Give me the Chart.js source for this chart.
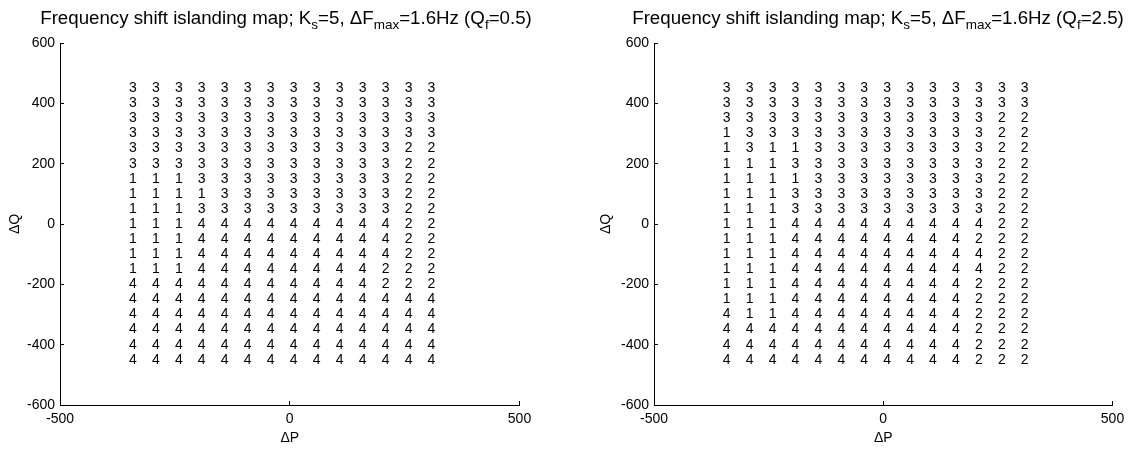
<!DOCTYPE html>
<html>
<head>
<meta charset="utf-8">
<script src="https://cdn.jsdelivr.net/npm/chart.js@4.4.0/dist/chart.umd.min.js"></script>
<style>
  body { margin:0; background:#fff; font-family:"Liberation Sans", Arial, sans-serif; }
  .panel { position:absolute; top:0; width:568px; height:449px; }
  .ttl { position:absolute; top:8px; font-size:18.7px; line-height:20px; white-space:nowrap; color:#000; transform:translateX(-50%); }
  .ttl span { font-size:13.5px; vertical-align:-5px; }
</style>
</head>
<body>
<div class="panel" style="left:0"><canvas id="c1" width="568" height="449"></canvas></div>
<div class="panel" style="left:568px"><canvas id="c2" width="568" height="449"></canvas></div>
<div class="ttl" style="left:286px">Frequency shift islanding map; K<span>s</span>=5, ΔF<span>max</span>=1.6Hz (Q<span>f</span>=0.5)</div>
<div class="ttl" style="left:878px">Frequency shift islanding map; K<span>s</span>=5, ΔF<span>max</span>=1.6Hz (Q<span>f</span>=2.5)</div>
<script>
// ── DATA ──
const xVals = [-350, -300, -250, -200, -150, -100, -50, 0, 50, 100, 150, 200, 250, 300];
const yVals = [450, 400, 350, 300, 250, 200, 150, 100, 50, 0, -50, -100, -150, -200, -250, -300, -350, -400, -450];
const xTicks = [-500, 0, 500];
const yTicks = [-600, -400, -200, 0, 200, 400, 600];

// Qf = 0.5, rows from dQ=450 down to dQ=-450
const mapQf05 = [
  [3,3,3,3,3,3,3,3,3,3,3,3,3,3],
  [3,3,3,3,3,3,3,3,3,3,3,3,3,3],
  [3,3,3,3,3,3,3,3,3,3,3,3,3,3],
  [3,3,3,3,3,3,3,3,3,3,3,3,3,3],
  [3,3,3,3,3,3,3,3,3,3,3,3,2,2],
  [3,3,3,3,3,3,3,3,3,3,3,3,2,2],
  [1,1,1,3,3,3,3,3,3,3,3,3,2,2],
  [1,1,1,1,3,3,3,3,3,3,3,3,2,2],
  [1,1,1,3,3,3,3,3,3,3,3,3,2,2],
  [1,1,1,4,4,4,4,4,4,4,4,4,2,2],
  [1,1,1,4,4,4,4,4,4,4,4,4,2,2],
  [1,1,1,4,4,4,4,4,4,4,4,4,2,2],
  [1,1,1,4,4,4,4,4,4,4,4,2,2,2],
  [4,4,4,4,4,4,4,4,4,4,4,2,2,2],
  [4,4,4,4,4,4,4,4,4,4,4,4,4,4],
  [4,4,4,4,4,4,4,4,4,4,4,4,4,4],
  [4,4,4,4,4,4,4,4,4,4,4,4,4,4],
  [4,4,4,4,4,4,4,4,4,4,4,4,4,4],
  [4,4,4,4,4,4,4,4,4,4,4,4,4,4],
];

// Qf = 2.5
const mapQf25 = [
  [3,3,3,3,3,3,3,3,3,3,3,3,3,3],
  [3,3,3,3,3,3,3,3,3,3,3,3,3,3],
  [3,3,3,3,3,3,3,3,3,3,3,3,2,2],
  [1,3,3,3,3,3,3,3,3,3,3,3,2,2],
  [1,3,1,1,3,3,3,3,3,3,3,3,2,2],
  [1,1,1,3,3,3,3,3,3,3,3,3,2,2],
  [1,1,1,1,3,3,3,3,3,3,3,3,2,2],
  [1,1,1,3,3,3,3,3,3,3,3,3,2,2],
  [1,1,1,3,3,3,3,3,3,3,3,3,2,2],
  [1,1,1,4,4,4,4,4,4,4,4,4,2,2],
  [1,1,1,4,4,4,4,4,4,4,4,2,2,2],
  [1,1,1,4,4,4,4,4,4,4,4,4,2,2],
  [1,1,1,4,4,4,4,4,4,4,4,4,2,2],
  [1,1,1,4,4,4,4,4,4,4,4,2,2,2],
  [1,1,1,4,4,4,4,4,4,4,4,2,2,2],
  [4,1,1,4,4,4,4,4,4,4,4,2,2,2],
  [4,4,4,4,4,4,4,4,4,4,4,2,2,2],
  [4,4,4,4,4,4,4,4,4,4,4,2,2,2],
  [4,4,4,4,4,4,4,4,4,4,4,2,2,2],
];

const FONT = '"Liberation Sans", Arial, sans-serif';

// ── PLUGINS ──
// digits drawn at each data point (left aligned, like matlab text())
const digitsPlugin = {
  id: 'digits',
  afterDatasetsDraw(chart) {
    const ctx = chart.ctx;
    const meta = chart.getDatasetMeta(0);
    const pts = chart.data.datasets[0].data;
    ctx.save();
    ctx.fillStyle = '#000';
    ctx.font = '14px ' + FONT;
    ctx.textAlign = 'left';
    ctx.textBaseline = 'middle';
    meta.data.forEach((el, i) => ctx.fillText(String(pts[i].v), el.x, el.y));
    ctx.restore();
  }
};

// inward tick marks
const inTicksPlugin = {
  id: 'inTicks',
  afterDraw(chart) {
    const { ctx, chartArea: a, scales: { x, y } } = chart;
    ctx.save();
    ctx.strokeStyle = '#000';
    ctx.lineWidth = 1;
    ctx.beginPath();
    xTicks.forEach(v => {
      const px = Math.round(x.getPixelForValue(v) - 0.5) + 0.5;
      ctx.moveTo(px, a.bottom); ctx.lineTo(px, a.bottom - 4);
    });
    yTicks.forEach(v => {
      const py = Math.round(y.getPixelForValue(v) - 0.5) + 0.5;
      ctx.moveTo(a.left, py); ctx.lineTo(a.left + 4, py);
    });
    ctx.stroke();
    ctx.restore();
  }
};

// ── CHART ──
function makeChart(id, rows, yAxisW, padRight, qPad) {
  const pts = [];
  yVals.forEach((yv, r) => xVals.forEach((xv, c) => pts.push({ x: xv, y: yv, v: rows[r][c] })));

  return new Chart(document.getElementById(id), {
    type: 'scatter',
    data: { datasets: [{ data: pts, pointRadius: 0, pointHoverRadius: 0 }] },
    options: {
      responsive: false, animation: false, devicePixelRatio: 1, events: [],
      layout: { padding: { top: 43, right: padRight, left: 0, bottom: 0 } },
      plugins: { legend: { display: false }, tooltip: { enabled: false } },
      scales: {
        x: {
          type: 'linear', min: -500, max: 500,
          afterBuildTicks: s => { s.ticks = xTicks.map(v => ({ value: v })); },
          afterFit: s => { s.height = 44; },
          grid: { display: false, drawTicks: false },
          border: { display: true, color: '#000', width: 1 },
          ticks: { color: '#000', font: { family: FONT, size: 14 }, padding: 6, maxRotation: 0, autoSkip: false },
          title: { display: true, text: 'ΔP', color: '#000', font: { family: FONT, size: 14 }, padding: { top: 0, bottom: 2 } }
        },
        y: {
          type: 'linear', min: -600, max: 600,
          afterBuildTicks: s => { s.ticks = yTicks.map(v => ({ value: v })); },
          afterFit: s => { s.width = yAxisW; },
          grid: { display: false, drawTicks: false },
          border: { display: true, color: '#000', width: 1 },
          ticks: { color: '#000', font: { family: FONT, size: 14 }, padding: 5, autoSkip: false },
          title: { display: true, text: 'ΔQ', color: '#000', font: { family: FONT, size: 14 }, padding: { top: qPad, bottom: 0 } }
        }
      }
    },
    plugins: [digitsPlugin, inTicksPlugin]
  });
}

makeChart('c1', mapQf05, 60, 48.5, 6.6);
makeChart('c2', mapQf25, 86, 23.5, 29.6);
</script>
</body>
</html>
